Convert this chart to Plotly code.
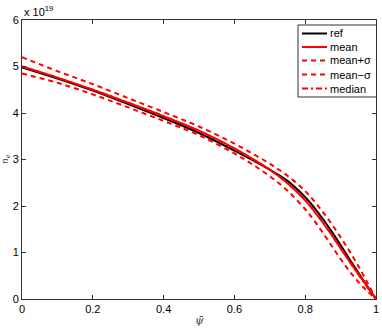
import plotly.graph_objects as go

# normalised flux coordinate and density profiles (units of 1e19 m^-3)
psi = [0.0, 0.1, 0.2, 0.3, 0.4, 0.5, 0.6, 0.65, 0.7, 0.75, 0.8, 0.825, 0.85, 0.875, 0.9, 0.925, 0.95, 0.975, 1.0]
ne_ref = [4.98, 4.74, 4.48, 4.19, 3.89, 3.57, 3.19, 2.99, 2.78, 2.54, 2.19, 1.97, 1.72, 1.45, 1.16, 0.86, 0.57, 0.28, 0.0]
ne_mean = [5.00, 4.76, 4.50, 4.22, 3.93, 3.62, 3.24, 3.02, 2.78, 2.49, 2.12, 1.89, 1.64, 1.37, 1.09, 0.81, 0.54, 0.27, 0.0]
ne_plus = [5.20, 4.90, 4.62, 4.32, 4.02, 3.71, 3.34, 3.13, 2.91, 2.65, 2.32, 2.11, 1.87, 1.61, 1.33, 1.03, 0.71, 0.36, 0.0]
ne_minus = [4.85, 4.65, 4.40, 4.12, 3.83, 3.52, 3.13, 2.90, 2.64, 2.33, 1.93, 1.69, 1.42, 1.14, 0.86, 0.60, 0.37, 0.17, 0.0]
ne_median = [5.00, 4.76, 4.50, 4.22, 3.93, 3.61, 3.23, 3.01, 2.78, 2.49, 2.13, 1.90, 1.65, 1.38, 1.10, 0.81, 0.53, 0.26, 0.0]

scale = 1e19
font = "Liberation Sans, Arial, sans-serif"
W, H = 382, 330
L, R, T, B = 22, 6, 20, 31
pw, ph = W - L - R, H - T - B


def px(x):
    return (x - L) / pw


def py(y):
    return (H - B - y) / ph


fig = go.Figure()
series = [
    ("ref", ne_ref, "black", "solid"),
    ("mean", ne_mean, "red", "solid"),
    ("mean+σ", ne_plus, "red", "5px,4px"),
    ("mean−σ", ne_minus, "red", "5px,4px"),
    ("median", ne_median, "red", "6px,3px,2px,3px"),
]
for name, vals, col, dash in series:
    fig.add_trace(go.Scatter(
        x=psi, y=[v * scale for v in vals], name=name, mode="lines",
        line=dict(color=col, width=2, dash=dash, shape="spline", smoothing=1.0),
        showlegend=False, hoverinfo="skip",
    ))

axis = dict(
    showgrid=False, zeroline=False, showline=True, linecolor="#333", linewidth=1,
    mirror="ticks", ticks="inside", ticklen=4, tickcolor="#333", automargin=False,
    tickfont=dict(family=font, size=11, color="black"),
)
fig.update_xaxes(axis, range=[0, 1], tickvals=[0, 0.2, 0.4, 0.6, 0.8, 1],
                 ticktext=["0", "0.2", "0.4", "0.6", "0.8", "1"])
fig.update_yaxes(axis, range=[0, 6 * scale], tickvals=[i * scale for i in range(7)],
                 ticktext=[str(i) for i in range(7)])

fig.add_annotation(x=0, y=1, xref="paper", yref="paper", xanchor="left", yanchor="bottom",
                   text="x 10<sup>19</sup>", showarrow=False, yshift=0,
                   font=dict(family=font, size=11, color="black"))
fig.add_annotation(x=px(5.5), y=0.5, xref="paper", yref="paper", xanchor="center",
                   textangle=-90, text="<i>n<sub>e</sub></i>", showarrow=False,
                   font=dict(family="DejaVu Serif, serif", size=9, color="#444"))
fig.add_annotation(x=0.5, y=py(320), xref="paper", yref="paper", yanchor="middle",
                   text="<i>ψ̄</i>", showarrow=False,
                   font=dict(family="DejaVu Serif, serif", size=11, color="#444"))

# legend box drawn by hand (MATLAB-style compact spacing)
fig.add_shape(type="rect", xref="paper", yref="paper",
              x0=px(298), x1=px(376.5), y0=py(97), y1=py(25),
              line=dict(color="#333", width=1), fillcolor="white", layer="above")
rows = [33.5, 47, 60.5, 74.5, 88.5]
for (name, vals, col, dash), ry in zip(series, rows):
    fig.add_shape(type="line", xref="paper", yref="paper",
                  x0=px(302), x1=px(327), y0=py(ry), y1=py(ry),
                  line=dict(color=col, width=2, dash=dash), layer="above")
    fig.add_annotation(x=px(328), y=py(ry), xref="paper", yref="paper",
                       xanchor="left", yanchor="middle", text=name, showarrow=False,
                       font=dict(family=font, size=11, color="black"))

fig.update_layout(
    width=W, height=H,
    margin=dict(l=L, r=R, t=T, b=B),
    plot_bgcolor="white", paper_bgcolor="white",
    showlegend=False,
)

fig.write_html("out.html", config={"displayModeBar": False},
               post_script="document.body.style.margin='0';")
